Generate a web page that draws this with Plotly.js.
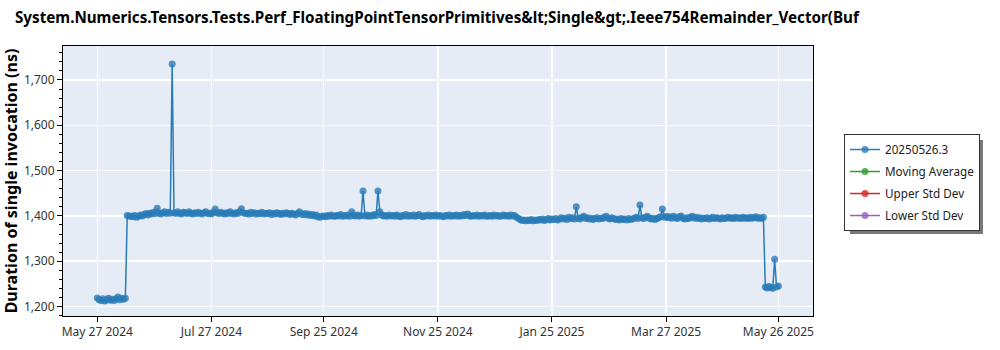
<!DOCTYPE html>
<html>
<head>
<meta charset="utf-8">
<script src="https://cdn.plot.ly/plotly-3.0.1.min.js"></script>
<style>html,body{margin:0;padding:0;background:#fff;}#chart{width:1000px;height:350px;}</style>
</head>
<body>
<div id="chart"></div>
<script>
var chartTitle = "System.Numerics.Tensors.Tests.Perf_FloatingPointTensorPrimitives&amp;lt;Single&amp;gt;.Ieee754Remainder_Vector(Buf";
var yTitle = "Duration of single invocation (ns)";
var seriesNames = ["20250526.3", "Moving Average", "Upper Std Dev", "Lower Std Dev"];
var seriesColors = ["#1f77b4", "#2ca02c", "#d62728", "#9467bd"];

var runDates = [
"2024-05-27","2024-05-28","2024-05-29","2024-05-30","2024-05-31",
"2024-06-01","2024-06-02","2024-06-03","2024-06-04","2024-06-05","2024-06-06","2024-06-07","2024-06-08","2024-06-09","2024-06-10","2024-06-11",
"2024-06-12","2024-06-13","2024-06-14","2024-06-15","2024-06-16","2024-06-17","2024-06-18","2024-06-19","2024-06-20","2024-06-21","2024-06-22","2024-06-23","2024-06-24","2024-06-25","2024-06-26","2024-06-27","2024-06-28","2024-06-29","2024-06-30",
"2024-07-01","2024-07-02","2024-07-03","2024-07-04","2024-07-05","2024-07-06","2024-07-07","2024-07-08","2024-07-09","2024-07-10","2024-07-11","2024-07-12","2024-07-13","2024-07-14","2024-07-15","2024-07-16","2024-07-17","2024-07-18","2024-07-19","2024-07-20","2024-07-21","2024-07-22","2024-07-23","2024-07-24","2024-07-25","2024-07-26","2024-07-27","2024-07-28","2024-07-29","2024-07-30","2024-07-31",
"2024-08-01","2024-08-02","2024-08-03","2024-08-04","2024-08-05","2024-08-06","2024-08-07","2024-08-08","2024-08-09","2024-08-10","2024-08-11","2024-08-12","2024-08-13","2024-08-14","2024-08-15","2024-08-16","2024-08-17","2024-08-18","2024-08-19","2024-08-20","2024-08-21","2024-08-22","2024-08-23","2024-08-24","2024-08-25","2024-08-26","2024-08-27","2024-08-28","2024-08-29","2024-08-30","2024-08-31",
"2024-09-01","2024-09-02","2024-09-03","2024-09-04","2024-09-05","2024-09-06","2024-09-07","2024-09-08","2024-09-09","2024-09-10","2024-09-11","2024-09-12","2024-09-13","2024-09-14","2024-09-15","2024-09-16","2024-09-17","2024-09-18","2024-09-19","2024-09-20","2024-09-21","2024-09-22","2024-09-23","2024-09-24","2024-09-25","2024-09-26","2024-09-27","2024-09-28","2024-09-29","2024-09-30",
"2024-10-01","2024-10-02","2024-10-03","2024-10-04","2024-10-05","2024-10-06","2024-10-07","2024-10-08","2024-10-09","2024-10-10","2024-10-11","2024-10-12","2024-10-13","2024-10-14","2024-10-15","2024-10-16","2024-10-17","2024-10-18","2024-10-19","2024-10-20","2024-10-21","2024-10-22","2024-10-23","2024-10-24","2024-10-25","2024-10-26","2024-10-27","2024-10-28","2024-10-29","2024-10-30","2024-10-31",
"2024-11-01","2024-11-02","2024-11-03","2024-11-04","2024-11-05","2024-11-06","2024-11-07","2024-11-08","2024-11-09","2024-11-10","2024-11-11","2024-11-12","2024-11-13","2024-11-14","2024-11-15","2024-11-16","2024-11-17","2024-11-18","2024-11-19","2024-11-20","2024-11-21","2024-11-22","2024-11-23","2024-11-24","2024-11-25","2024-11-26","2024-11-27","2024-11-28","2024-11-29","2024-11-30",
"2024-12-01","2024-12-02","2024-12-03","2024-12-04","2024-12-05","2024-12-06","2024-12-07","2024-12-08","2024-12-09","2024-12-10","2024-12-11","2024-12-12","2024-12-13","2024-12-14","2024-12-15","2024-12-16","2024-12-17","2024-12-18","2024-12-19","2024-12-20","2024-12-21","2024-12-22","2024-12-23","2024-12-24","2024-12-25","2024-12-26","2024-12-27","2024-12-28","2024-12-29","2024-12-30","2024-12-31",
"2025-01-01","2025-01-02","2025-01-03","2025-01-04","2025-01-05","2025-01-06","2025-01-07","2025-01-08","2025-01-09","2025-01-10","2025-01-11","2025-01-12","2025-01-13","2025-01-14","2025-01-15","2025-01-16","2025-01-17","2025-01-18","2025-01-19","2025-01-20","2025-01-21","2025-01-22","2025-01-23","2025-01-24","2025-01-25","2025-01-26","2025-01-27","2025-01-28","2025-01-29","2025-01-30","2025-01-31",
"2025-02-01","2025-02-02","2025-02-03","2025-02-04","2025-02-05","2025-02-06","2025-02-07","2025-02-08","2025-02-09","2025-02-10","2025-02-11","2025-02-12","2025-02-13","2025-02-14","2025-02-15","2025-02-16","2025-02-17","2025-02-18","2025-02-19","2025-02-20","2025-02-21","2025-02-22","2025-02-23","2025-02-24","2025-02-25","2025-02-26","2025-02-27","2025-02-28",
"2025-03-01","2025-03-02","2025-03-03","2025-03-04","2025-03-05","2025-03-06","2025-03-07","2025-03-08","2025-03-09","2025-03-10","2025-03-11","2025-03-12","2025-03-13","2025-03-14","2025-03-15","2025-03-16","2025-03-17","2025-03-18","2025-03-19","2025-03-20","2025-03-21","2025-03-22","2025-03-23","2025-03-24","2025-03-25","2025-03-26","2025-03-27","2025-03-28","2025-03-29","2025-03-30","2025-03-31",
"2025-04-01","2025-04-02","2025-04-03","2025-04-04","2025-04-05","2025-04-06","2025-04-07","2025-04-08","2025-04-09","2025-04-10","2025-04-11","2025-04-12","2025-04-13","2025-04-14","2025-04-15","2025-04-16","2025-04-17","2025-04-18","2025-04-19","2025-04-20","2025-04-21","2025-04-22","2025-04-23","2025-04-24","2025-04-25","2025-04-26","2025-04-27","2025-04-28","2025-04-29","2025-04-30",
"2025-05-01","2025-05-02","2025-05-03","2025-05-04","2025-05-05","2025-05-06","2025-05-07","2025-05-08","2025-05-09","2025-05-10","2025-05-11","2025-05-12","2025-05-13","2025-05-14","2025-05-15","2025-05-16","2025-05-17","2025-05-18",
"2025-05-19","2025-05-20","2025-05-21","2025-05-22","2025-05-23","2025-05-24","2025-05-25","2025-05-26"
];
var durationNs = [
1219,1215,1213,1217,1212,
1215,1218,1214,1216,1213,1217,1221,1215,1218,1216,1218,
1401,1399,1400,1398,1401,1397,1399,1402,1400,1403,1405,1402,1406,1404,1408,1405,1417,1406,1404,
1407,1409,1405,1408,1406,1735,1407,1405,1409,1406,1404,1408,1407,1405,1409,1406,1404,1407,1405,1408,1406,1404,1407,1409,1405,1406,1404,1408,1415,1407,1405,
1408,1406,1404,1407,1405,1409,1406,1404,1407,1405,1409,1416,1407,1405,1406,1404,1408,1405,1407,1404,1406,1405,1408,1404,1406,1405,1407,1403,1406,1404,1407,
1405,1403,1406,1404,1407,1405,1403,1406,1404,1402,1405,1409,1404,1403,1405,1402,1404,1401,1403,1400,1402,1398,1397,1399,1400,1398,1401,1399,1402,1400,
1399,1401,1400,1403,1399,1401,1400,1402,1399,1409,1401,1400,1402,1399,1401,1455,1400,1402,1399,1401,1400,1403,1401,1455,1409,1402,1400,1401,1399,1402,1400,
1401,1399,1402,1400,1398,1401,1400,1403,1399,1401,1400,1402,1399,1401,1403,1400,1398,1401,1400,1402,1399,1401,1400,1402,1399,1401,1400,1398,1401,1400,
1402,1399,1401,1400,1402,1399,1401,1400,1403,1401,1404,1400,1399,1401,1400,1402,1399,1401,1400,1402,1399,1400,1401,1399,1402,1400,1401,1399,1400,1402,1400,
1401,1399,1402,1400,1401,1397,1395,1392,1390,1391,1389,1391,1390,1392,1389,1391,1390,1392,1391,1393,1390,1392,1394,1391,1393,1392,1394,1391,1393,1396,1393,
1395,1392,1397,1394,1396,1393,1420,1395,1393,1397,1399,1394,1396,1393,1395,1392,1394,1396,1393,1395,1394,1397,1399,1395,1393,1396,1394,1392,
1393,1391,1394,1392,1393,1391,1394,1392,1393,1395,1397,1394,1424,1396,1394,1397,1399,1395,1393,1395,1392,1394,1396,1398,1415,1397,1399,1396,1398,1395,1399,
1396,1394,1398,1400,1395,1393,1396,1394,1397,1399,1395,1397,1394,1396,1393,1395,1394,1396,1393,1395,1397,1394,1396,1395,1393,1396,1394,1395,1397,1395,
1396,1394,1397,1395,1396,1394,1397,1395,1396,1394,1397,1395,1396,1398,1395,1396,1394,1397,
1243,1241,1244,1242,1240,1304,1243,1245
];
// The statistic series carry no drawable values in the reference (legend entries only)
var movingAverage = [null];
var upperStdDev = [null];
var lowerStdDev = [null];

var xTickVals = ["2024-05-27","2024-07-27","2024-09-25","2024-11-25","2025-01-25","2025-03-27","2025-05-26"];
var xTickText = ["May 27 2024","Jul 27 2024","Sep 25 2024","Nov 25 2024","Jan 25 2025","Mar 27 2025","May 26 2025"];
var xRange = ["2024-05-08 16:00","2025-06-13 12:00"];
var yRange = [1179, 1775];
var yTickVals = [1200,1300,1400,1500,1600,1700];

var seriesY = [durationNs, movingAverage, upperStdDev, lowerStdDev];
var traces = seriesNames.map(function(name, i){
  return {
    type: "scatter",
    mode: "lines+markers",
    name: name,
    legendgroup: "g" + i,
    x: i === 0 ? runDates : [runDates[0]],
    y: seriesY[i],
    line: {color: seriesColors[i], width: 1.5},
    marker: {color: seriesColors[i], size: 7, opacity: 0.8},
    opacity: i === 0 ? 0.95 : 1
  };
});

var layout = {
  width: 1000, height: 350,
  margin: {l: 63, r: 187, t: 46, b: 34},
  paper_bgcolor: "#ffffff",
  plot_bgcolor: "#E5ECF6",
  font: {family: "Noto Sans, DejaVu Sans, sans-serif", size: 12, color: "#333"},
  title: {
    text: chartTitle,
    x: 0.015, xref: "container", xanchor: "left",
    y: 0.949, yref: "container", yanchor: "middle",
    font: {family: "Noto Sans, sans-serif", size: 15.2, color: "#000", weight: "bold"}
  },
  xaxis: {
    type: "date",
    range: xRange,
    tickvals: xTickVals,
    ticktext: xTickText,
    ticks: "outside", ticklen: 5, tickcolor: "#000",
    showline: true, linecolor: "#000", linewidth: 1, mirror: true,
    gridcolor: "#ffffff", gridwidth: 1.5,
    tickfont: {size: 12, color: "#333"},
    zeroline: false
  },
  yaxis: {
    range: yRange,
    tickvals: yTickVals,
    tickformat: ",d",
    ticks: "outside", ticklen: 5, tickcolor: "#000",
    minor: {dtick: 20, ticks: "outside", ticklen: 3, tickcolor: "#000", showgrid: false},
    showline: true, linecolor: "#000", linewidth: 1, mirror: true,
    gridcolor: "#ffffff", gridwidth: 1.5,
    tickfont: {size: 12, color: "#333"},
    zeroline: false,
    title: {text: yTitle, font: {family: "Noto Sans, sans-serif", size: 16, color: "#000", weight: "bold"}, standoff: 10}
  },
  showlegend: true,
  legend: {
    x: (844 - 63) / 750, y: 0.674, xanchor: "left", yanchor: "top",
    bgcolor: "#ffffff", bordercolor: "#333", borderwidth: 1,
    font: {size: 11.7, color: "#222"},
    itemwidth: 30,
    traceorder: "grouped", tracegroupgap: 3
  },
  shapes: [{
    type: "rect", xref: "paper", yref: "paper", layer: "below",
    x0: (850 - 63) / 750, x1: (983 - 63) / 750,
    y0: (316 - 234) / 270, y1: (316 - 140) / 270,
    fillcolor: "#777", line: {width: 0}
  }]
};

Plotly.newPlot("chart", traces, layout, {displayModeBar: false, staticPlot: true});
</script>
</body>
</html>
